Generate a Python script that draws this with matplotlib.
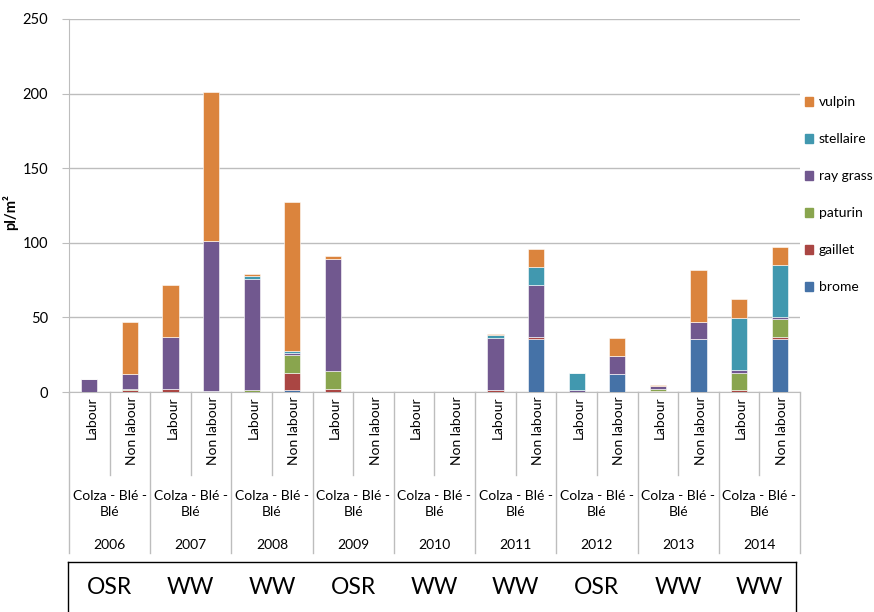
import matplotlib.pyplot as plt
from matplotlib.lines import Line2D
from matplotlib.patches import Patch
import numpy as np

plt.rcParams["font.family"] = ["Lato", "DejaVu Sans"]

YEARS = ["2006", "2007", "2008", "2009", "2010", "2011", "2012", "2013", "2014"]
TILLAGE = ["Labour", "Non labour"]
ROTATION = "Colza - Blé -\nBlé"
CROPS = ["OSR", "WW", "WW", "OSR", "WW", "WW", "OSR", "WW", "WW"]

SPECIES = ["brome", "gaillet", "paturin", "ray grass", "stellaire", "vulpin"]
COLORS = ["#4572A7", "#AA4643", "#89A54E", "#71588F", "#4198AF", "#DB843D"]

# one value per bar: 2006 L, 2006 NL, 2007 L, 2007 NL, ...
brome =     [0, 0,   0, 1,    0, 1.3,    0, 0, 0, 0, 0, 35.3, 0, 11.8, 0, 35.3, 0, 35.3]
gaillet =   [0, 1.5, 2, 0,    0, 11.5,   2, 0, 0, 0, 1.5, 1.3, 0, 0, 1, 0, 1.3, 1.6]
paturin =   [0, 0.3, 0, 0,    1.5, 12,   12, 0, 0, 0, 0, 0, 0, 0, 1, 0, 11.7, 12]
ray_grass = [8.5, 10, 35, 100, 74, 1.2,  75, 0, 0, 0, 35, 35, 1.3, 12.3, 2, 11.6, 1.8, 1.2]
stellaire = [0, 0.3, 0, 0,    2.5, 1.2,  0, 0, 0, 0, 1.5, 12, 11.5, 0, 0, 0, 35, 35]
vulpin =    [0, 34.5, 35, 100, 1, 100,   2.3, 0, 0, 0, 1, 12, 0, 12, 0.5, 35, 12.3, 12]

SERIES = [brome, gaillet, paturin, ray_grass, stellaire, vulpin]

fig = plt.figure(figsize=(8.74, 6.12), dpi=100)
ax = fig.add_axes([69 / 874, 1 - 392 / 612, (800 - 69) / 874, 373 / 612])

n = len(brome)
x = np.arange(n)
bottom = np.zeros(n)
for vals, name, col in zip(SERIES, SPECIES, COLORS):
    vals = np.array(vals, dtype=float)
    ax.bar(x, vals, width=0.4, bottom=bottom, color=col, label=name,
           edgecolor="white", linewidth=0.4, zorder=3)
    bottom += vals

ax.set_xlim(-0.5, n - 0.5)
ax.set_ylim(0, 250)
ax.set_yticks(np.arange(0, 251, 50))
ax.yaxis.grid(True, color="#bdbdbd", linewidth=1.0, zorder=0)
ax.tick_params(axis="y", length=5, color="#bdbdbd", pad=10, labelsize=10.5)
ax.tick_params(axis="x", bottom=False, labelbottom=False)
for s in ["top", "right"]:
    ax.spines[s].set_visible(False)
for s in ["left", "bottom"]:
    ax.spines[s].set_color("#bdbdbd")


def ay(px):
    # figure pixel row -> axes fraction
    return (392 - px) / 373


ax.set_ylabel("pl/m²", fontweight="bold", fontsize=10.5)
ax.yaxis.set_label_coords((18 - 69) / 731, ay(212))

tr = ax.get_xaxis_transform()

# category labels
for i in range(n):
    ax.text(x[i] + 0.05, ay(396), TILLAGE[i % 2], transform=tr, rotation=90,
            ha="center", va="top", fontsize=10)
# separators
for b in range(n + 1):
    xb = b - 0.5
    low = ay(553) if b % 2 == 0 else ay(475)
    ax.add_line(Line2D([xb, xb], [0, low], transform=tr, color="#bdbdbd",
                       linewidth=1.0, clip_on=False))
for k, yr in enumerate(YEARS):
    xc = 2 * k + 0.5
    ax.text(xc, ay(504), ROTATION, transform=tr, ha="center", va="center",
            fontsize=10, linespacing=1.45)
    ax.text(xc, ay(545), yr, transform=tr, ha="center", va="center", fontsize=10)
    ax.text(xc, ay(588), CROPS[k], transform=tr, ha="center", va="center", fontsize=16.5)

# box around crop labels
bx0, bx1, by0 = -0.5 - 1 / 40.6, n - 0.5 - 4 / 40.6, ay(562)
for xs, ys in [([bx0, bx1], [by0, by0]), ([bx0, bx0], [by0, ay(620)]),
               ([bx1, bx1], [by0, ay(620)])]:
    ax.add_line(Line2D(xs, ys, transform=tr, color="black", linewidth=1.0,
                       clip_on=False))

handles = [Patch(color=c, label=s) for s, c in zip(SPECIES, COLORS)][::-1]
ax.legend(handles=handles, loc="center left", bbox_to_anchor=(0.995, ay(195)),
          frameon=False, fontsize=10, labelspacing=1.8, handlelength=0.6,
          handleheight=0.6, handletextpad=0.4, borderaxespad=0.2)

fig.savefig("out.png", dpi=100)
